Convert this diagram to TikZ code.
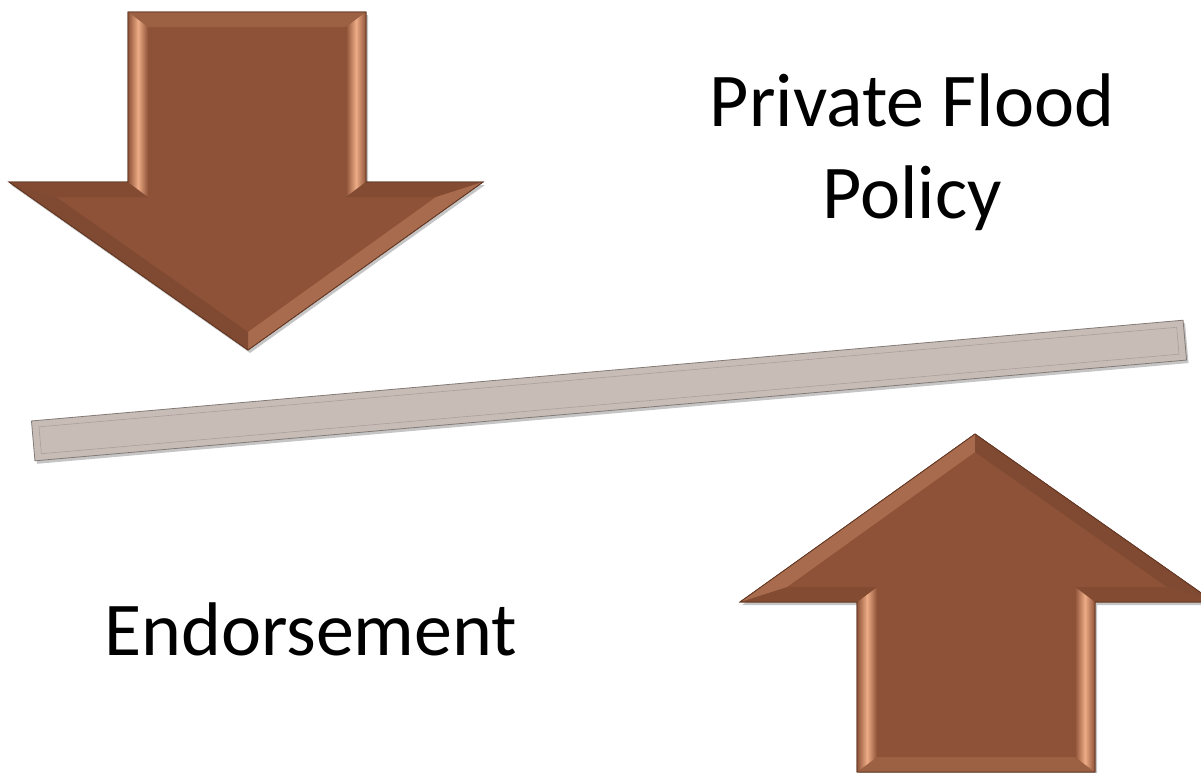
\documentclass[tikz,border=0pt]{standalone}
\usepackage{fontspec}
\setmainfont{Carlito}
\usetikzlibrary{shadows}

\definecolor{copper}{RGB}{141,82,55}
\definecolor{copperlight}{RGB}{238,172,134}
\definecolor{copperdark}{RGB}{98,54,34}
\definecolor{beamgray}{RGB}{200,188,182}

\tikzset{
  arrowbody/.style={fill=copper, draw=copperdark, line width=0.8pt,
    drop shadow={shadow xshift=2pt, shadow yshift=-3pt, opacity=.45}},
  beambar/.style={fill=beamgray, draw=beamgray!65!black, line width=0.8pt,
    drop shadow={shadow xshift=2pt, shadow yshift=-3pt, opacity=.45}},
  shaftside/.style={left color=copper, right color=copper, middle color=copperlight},
  bigtext/.style={inner sep=0pt, font=\fontsize{76}{92}\selectfont},
}

% bevelled copper arrow: #1 name prefix, #2 tip, #3 rotation (0 = pointing down)
\newcommand\copperarrow[3]{%
  \begin{scope}[shift={#2}, rotate=#3]
    \coordinate (#1o1) at (-120,-338);
    \coordinate (#1o2) at (118,-338);
    \coordinate (#1o3) at (118,-168);
    \coordinate (#1o4) at (235,-168);
    \coordinate (#1o5) at (0,0);
    \coordinate (#1o6) at (-239,-168);
    \coordinate (#1o7) at (-120,-168);
    \coordinate (#1i1) at (-100,-323);
    \coordinate (#1i2) at (98,-323);
    \coordinate (#1i3) at (98,-153);
    \coordinate (#1i4) at (188,-153);
    \coordinate (#1i5) at (0,-18);
    \coordinate (#1i6) at (-192,-153);
    \coordinate (#1i7) at (-100,-153);
  \end{scope}
  \filldraw[arrowbody] (#1o1) -- (#1o2) -- (#1o3) -- (#1o4) -- (#1o5) -- (#1o6) -- (#1o7) -- cycle;
  % bevel facets
  \fill[copper!85!copperlight] (#1o1) -- (#1o2) -- (#1i2) -- (#1i1) -- cycle;
  \shade[shaftside] (#1o2) -- (#1o3) -- (#1i3) -- (#1i2) -- cycle;
  \fill[copper!92!black] (#1o3) -- (#1o4) -- (#1i4) -- (#1i3) -- cycle;
  \fill[copper!72!copperlight] (#1o4) -- (#1o5) -- (#1i5) -- (#1i4) -- cycle;
  \fill[copper!90!black] (#1o5) -- (#1o6) -- (#1i6) -- (#1i5) -- cycle;
  \fill[copper!92!black] (#1o6) -- (#1o7) -- (#1i7) -- (#1i6) -- cycle;
  \shade[shaftside] (#1o7) -- (#1o1) -- (#1i1) -- (#1i7) -- cycle;
  \draw[copperdark, line width=0.8pt] (#1o1) -- (#1o2) -- (#1o3) -- (#1o4) -- (#1o5) -- (#1o6) -- (#1o7) -- cycle;
}

\begin{document}
\begin{tikzpicture}[x=1pt, y=-1pt]
\path[use as bounding box, fill=white] (0,0) rectangle (1201,772);

% the beam
\node[beambar, rotate=5, minimum width=1156pt, minimum height=40pt] (beam) at (609,390.5) {};
\node[rotate=5, minimum width=1142pt, minimum height=27pt, draw=beamgray!85!black, line width=0.6pt] (beaminner) at (beam.center) {};

% the two arrows
\copperarrow{dn}{(248,350)}{0}
\copperarrow{up}{(975,434)}{180}

\node[bigtext, align=center, anchor=base] (policy) at (912,218) {Private Flood\\Policy};
\node[bigtext, anchor=base west] (endorse) at (104,655) {Endorsement};
\end{tikzpicture}
\end{document}
